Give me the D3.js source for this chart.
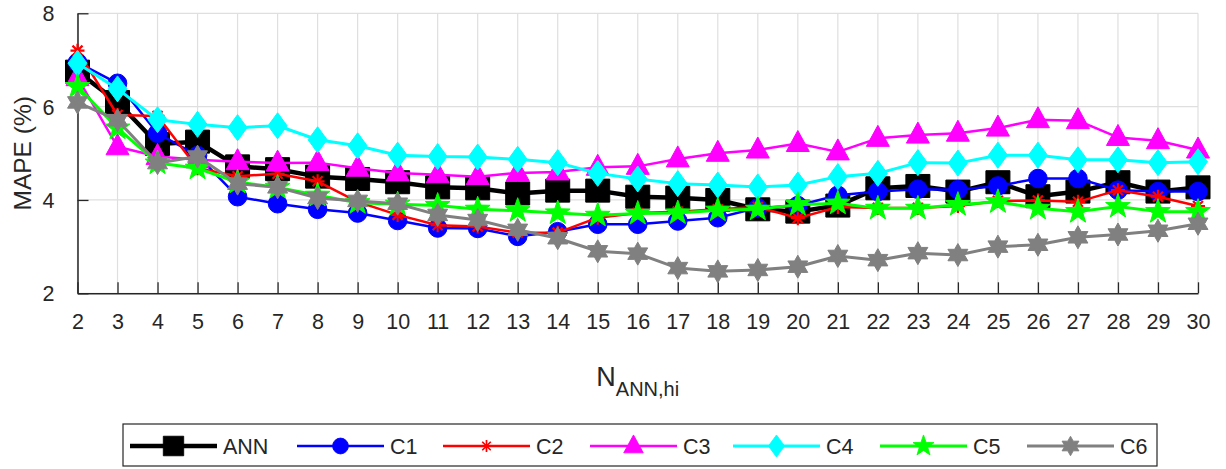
<!DOCTYPE html>
<html>
<head>
<meta charset="utf-8">
<script src="https://cdn.jsdelivr.net/npm/d3@7"></script>
<style>
  body { margin: 0; background: #fff; }
  text { font-family: "Liberation Sans", Arial, sans-serif; fill: #262626; }
</style>
</head>
<body>
<div id="chart"></div>
<script>
//////////////////////////// data /////////////////////////////////////////

const nValues = d3.range(2, 31);
const yTicks = [2, 4, 6, 8];

const ann = [6.75, 6.1, 5.2, 5.25, 4.72, 4.66, 4.5, 4.45, 4.38, 4.27, 4.25, 4.14, 4.2, 4.2, 4.07, 4.05, 4.0, 3.8, 3.75, 3.88, 4.25, 4.3, 4.18, 4.38, 4.08, 4.18, 4.38, 4.18, 4.27];
const c1 = [6.95, 6.5, 5.43, 4.95, 4.07, 3.92, 3.8, 3.72, 3.56, 3.4, 3.39, 3.22, 3.32, 3.48, 3.48, 3.55, 3.62, 3.83, 3.88, 4.1, 4.18, 4.23, 4.22, 4.3, 4.46, 4.46, 4.21, 4.18, 4.18];
const c2 = [7.2, 5.82, 5.8, 4.68, 4.51, 4.56, 4.4, 3.96, 3.68, 3.46, 3.43, 3.3, 3.3, 3.62, 3.72, 3.75, 3.8, 3.85, 3.61, 3.85, 3.83, 3.83, 3.87, 3.98, 3.99, 3.96, 4.21, 4.07, 3.87];
const c3 = [6.62, 5.14, 4.93, 4.86, 4.82, 4.79, 4.8, 4.68, 4.58, 4.54, 4.5, 4.58, 4.6, 4.7, 4.72, 4.88, 5.0, 5.07, 5.21, 5.03, 5.32, 5.39, 5.43, 5.54, 5.72, 5.7, 5.34, 5.27, 5.07];
const c4 = [6.93, 6.38, 5.72, 5.62, 5.55, 5.59, 5.29, 5.16, 4.96, 4.93, 4.92, 4.87, 4.8, 4.57, 4.45, 4.35, 4.32, 4.28, 4.32, 4.5, 4.57, 4.8, 4.79, 4.96, 4.96, 4.86, 4.86, 4.8, 4.82];
const c5 = [6.43, 5.54, 4.79, 4.68, 4.38, 4.27, 4.1, 3.94, 3.91, 3.88, 3.8, 3.77, 3.72, 3.67, 3.71, 3.72, 3.78, 3.8, 3.9, 3.93, 3.82, 3.82, 3.9, 3.96, 3.82, 3.75, 3.86, 3.75, 3.75];
const c6 = [6.09, 5.71, 4.79, 4.93, 4.35, 4.27, 4.04, 3.98, 3.92, 3.68, 3.57, 3.36, 3.18, 2.9, 2.85, 2.54, 2.47, 2.5, 2.57, 2.8, 2.71, 2.86, 2.82, 3.0, 3.04, 3.2, 3.26, 3.34, 3.49];

const seriesNames = ["ANN", "C1", "C2", "C3", "C4", "C5", "C6"];
const seriesValues = [ann, c1, c2, c3, c4, c5, c6];

//////////////////////////// styles ///////////////////////////////////////

const colors = ["#000000", "#0000ff", "#ff0000", "#ff00ff", "#00ffff", "#00ff00", "#808080"];
const lineWidths = [4.5, 2.5, 2.5, 2.5, 3, 3, 3];
const markers = ["square", "circle", "asterisk", "triangle", "diamond", "pentagram", "hexagram"];

// marker paths centred on 0,0
const starPath = (points, rOut, rIn) => {
	const pts = [];
	for (let i = 0; i < points * 2; i++) {
		const r = i % 2 === 0 ? rOut : rIn;
		const a = -Math.PI / 2 + (i * Math.PI) / points;
		pts.push([r * Math.cos(a), r * Math.sin(a)]);
	}
	return "M" + pts.map((p) => p.join(",")).join("L") + "Z";
};

const markerPath = (type) => {
	switch (type) {
		case "square": return "M-12,-11.5H12V11.5H-12Z";
		case "circle": return d3.symbol(d3.symbolCircle, Math.PI * 9.3 * 9.3)();
		case "triangle": return "M0,-13L11.5,8L-11.5,8Z";
		case "diamond": return "M0,-13L9.5,0L0,13L-9.5,0Z";
		case "pentagram": return starPath(5, 13, 5.2);
		case "hexagram": return starPath(6, 11.5, 6.6);
		case "asterisk": return "M0,-7V7M-7,0H7M-5,-5L5,5M-5,5L5,-5";
	}
};

//////////////////////////// sizes ///////////////////////////////////////

const width = 1226;
const height = 469;
const margin = { top: 13.3, right: 28, bottom: 175.7, left: 77.5 };
const boundedWidth = width - margin.left - margin.right;
const boundedHeight = height - margin.top - margin.bottom;

const svg = d3.select("#chart").append("svg")
	.attr("width", width)
	.attr("height", height);

const bounds = svg.append("g")
	.attr("transform", `translate(${margin.left},${margin.top})`);

//////////////////////////// scales ///////////////////////////////////////

const xScale = d3.scaleLinear().domain([2, 30]).range([0, boundedWidth]);
const yScale = d3.scaleLinear().domain([2, 8]).range([boundedHeight, 0]);

//////////////////////////// grid + axes //////////////////////////////////

bounds.append("g")
	.selectAll("line")
	.data(nValues)
	.join("line")
	.attr("x1", (d) => xScale(d)).attr("x2", (d) => xScale(d))
	.attr("y1", 0).attr("y2", boundedHeight)
	.attr("stroke", "#dfdfdf").attr("stroke-width", 1.2);

bounds.append("g")
	.selectAll("line")
	.data(yTicks)
	.join("line")
	.attr("x1", 0).attr("x2", boundedWidth)
	.attr("y1", (d) => yScale(d)).attr("y2", (d) => yScale(d))
	.attr("stroke", "#dfdfdf").attr("stroke-width", 1.2);

const xAxis = bounds.append("g")
	.attr("transform", `translate(0,${boundedHeight})`)
	.call(d3.axisBottom(xScale).tickValues(nValues).tickFormat(d3.format("d"))
		.tickSizeInner(-11).tickSizeOuter(0).tickPadding(20));

const yAxis = bounds.append("g")
	.call(d3.axisLeft(yScale).tickValues(yTicks).tickFormat(d3.format("d"))
		.tickSizeInner(-11).tickSizeOuter(0).tickPadding(23));

[xAxis, yAxis].forEach((ax) => {
	ax.select(".domain").attr("stroke", "#262626").attr("stroke-width", 1.5);
	ax.selectAll(".tick line").attr("stroke", "#262626").attr("stroke-width", 1.3);
	ax.selectAll(".tick text")
		.attr("font-family", "Liberation Sans, Arial, sans-serif")
		.attr("font-size", 21.5)
		.attr("fill", "#262626");
});
yAxis.selectAll(".tick text").attr("dy", "0.35em");

//////////////////////////// labels ///////////////////////////////////////

svg.append("text")
	.attr("transform", `translate(31,${margin.top + boundedHeight / 2}) rotate(-90)`)
	.attr("text-anchor", "middle")
	.attr("font-size", 24.5)
	.text("MAPE (%)");

const xLab = svg.append("text")
	.attr("x", margin.left + boundedWidth / 2)
	.attr("y", 386)
	.attr("text-anchor", "middle")
	.attr("font-size", 27);
xLab.append("tspan").text("N");
xLab.append("tspan").attr("font-size", 20).attr("dy", 10).text("ANN,hi");

//////////////////////////// lines + markers //////////////////////////////

const line = d3.line()
	.x((d, i) => xScale(nValues[i]))
	.y((d) => yScale(d));

seriesValues.forEach((vals, s) => {
	const g = bounds.append("g").attr("class", "series");
	g.append("path")
		.attr("d", line(vals))
		.attr("fill", "none")
		.attr("stroke", colors[s])
		.attr("stroke-width", lineWidths[s])
		.attr("stroke-linejoin", "round");
	g.selectAll(".marker")
		.data(vals)
		.join("path")
		.attr("class", "marker")
		.attr("transform", (d, i) => `translate(${xScale(nValues[i])},${yScale(d)})`)
		.attr("d", markerPath(markers[s]))
		.attr("fill", markers[s] === "asterisk" ? "none" : colors[s])
		.attr("stroke", colors[s])
		.attr("stroke-width", markers[s] === "asterisk" ? 2.2 : 1);
});

//////////////////////////// legend ///////////////////////////////////////

const legendX = 123;
const legendY = 424;
const legend = svg.append("g");
legend.append("rect")
	.attr("x", legendX).attr("y", legendY)
	.attr("width", 1034).attr("height", 42)
	.attr("fill", "#fff").attr("stroke", "#262626").attr("stroke-width", 1.2);

const entryX = [130, 297, 443, 590, 733, 880, 1027];
seriesNames.forEach((name, s) => {
	const g = legend.append("g").attr("transform", `translate(${entryX[s]},${legendY + 22})`);
	g.append("line")
		.attr("x1", 0).attr("x2", 87)
		.attr("stroke", colors[s]).attr("stroke-width", lineWidths[s]);
	g.append("path")
		.attr("transform", "translate(43.5,0) scale(0.85)")
		.attr("d", markerPath(markers[s]))
		.attr("fill", markers[s] === "asterisk" ? "none" : colors[s])
		.attr("stroke", colors[s])
		.attr("stroke-width", markers[s] === "asterisk" ? 2 : 1);
	g.append("text")
		.attr("x", 93).attr("y", 0).attr("dy", "0.36em")
		.attr("font-size", 21.5)
		.attr("fill", "#000")
		.text(name);
});
</script>
</body>
</html>
